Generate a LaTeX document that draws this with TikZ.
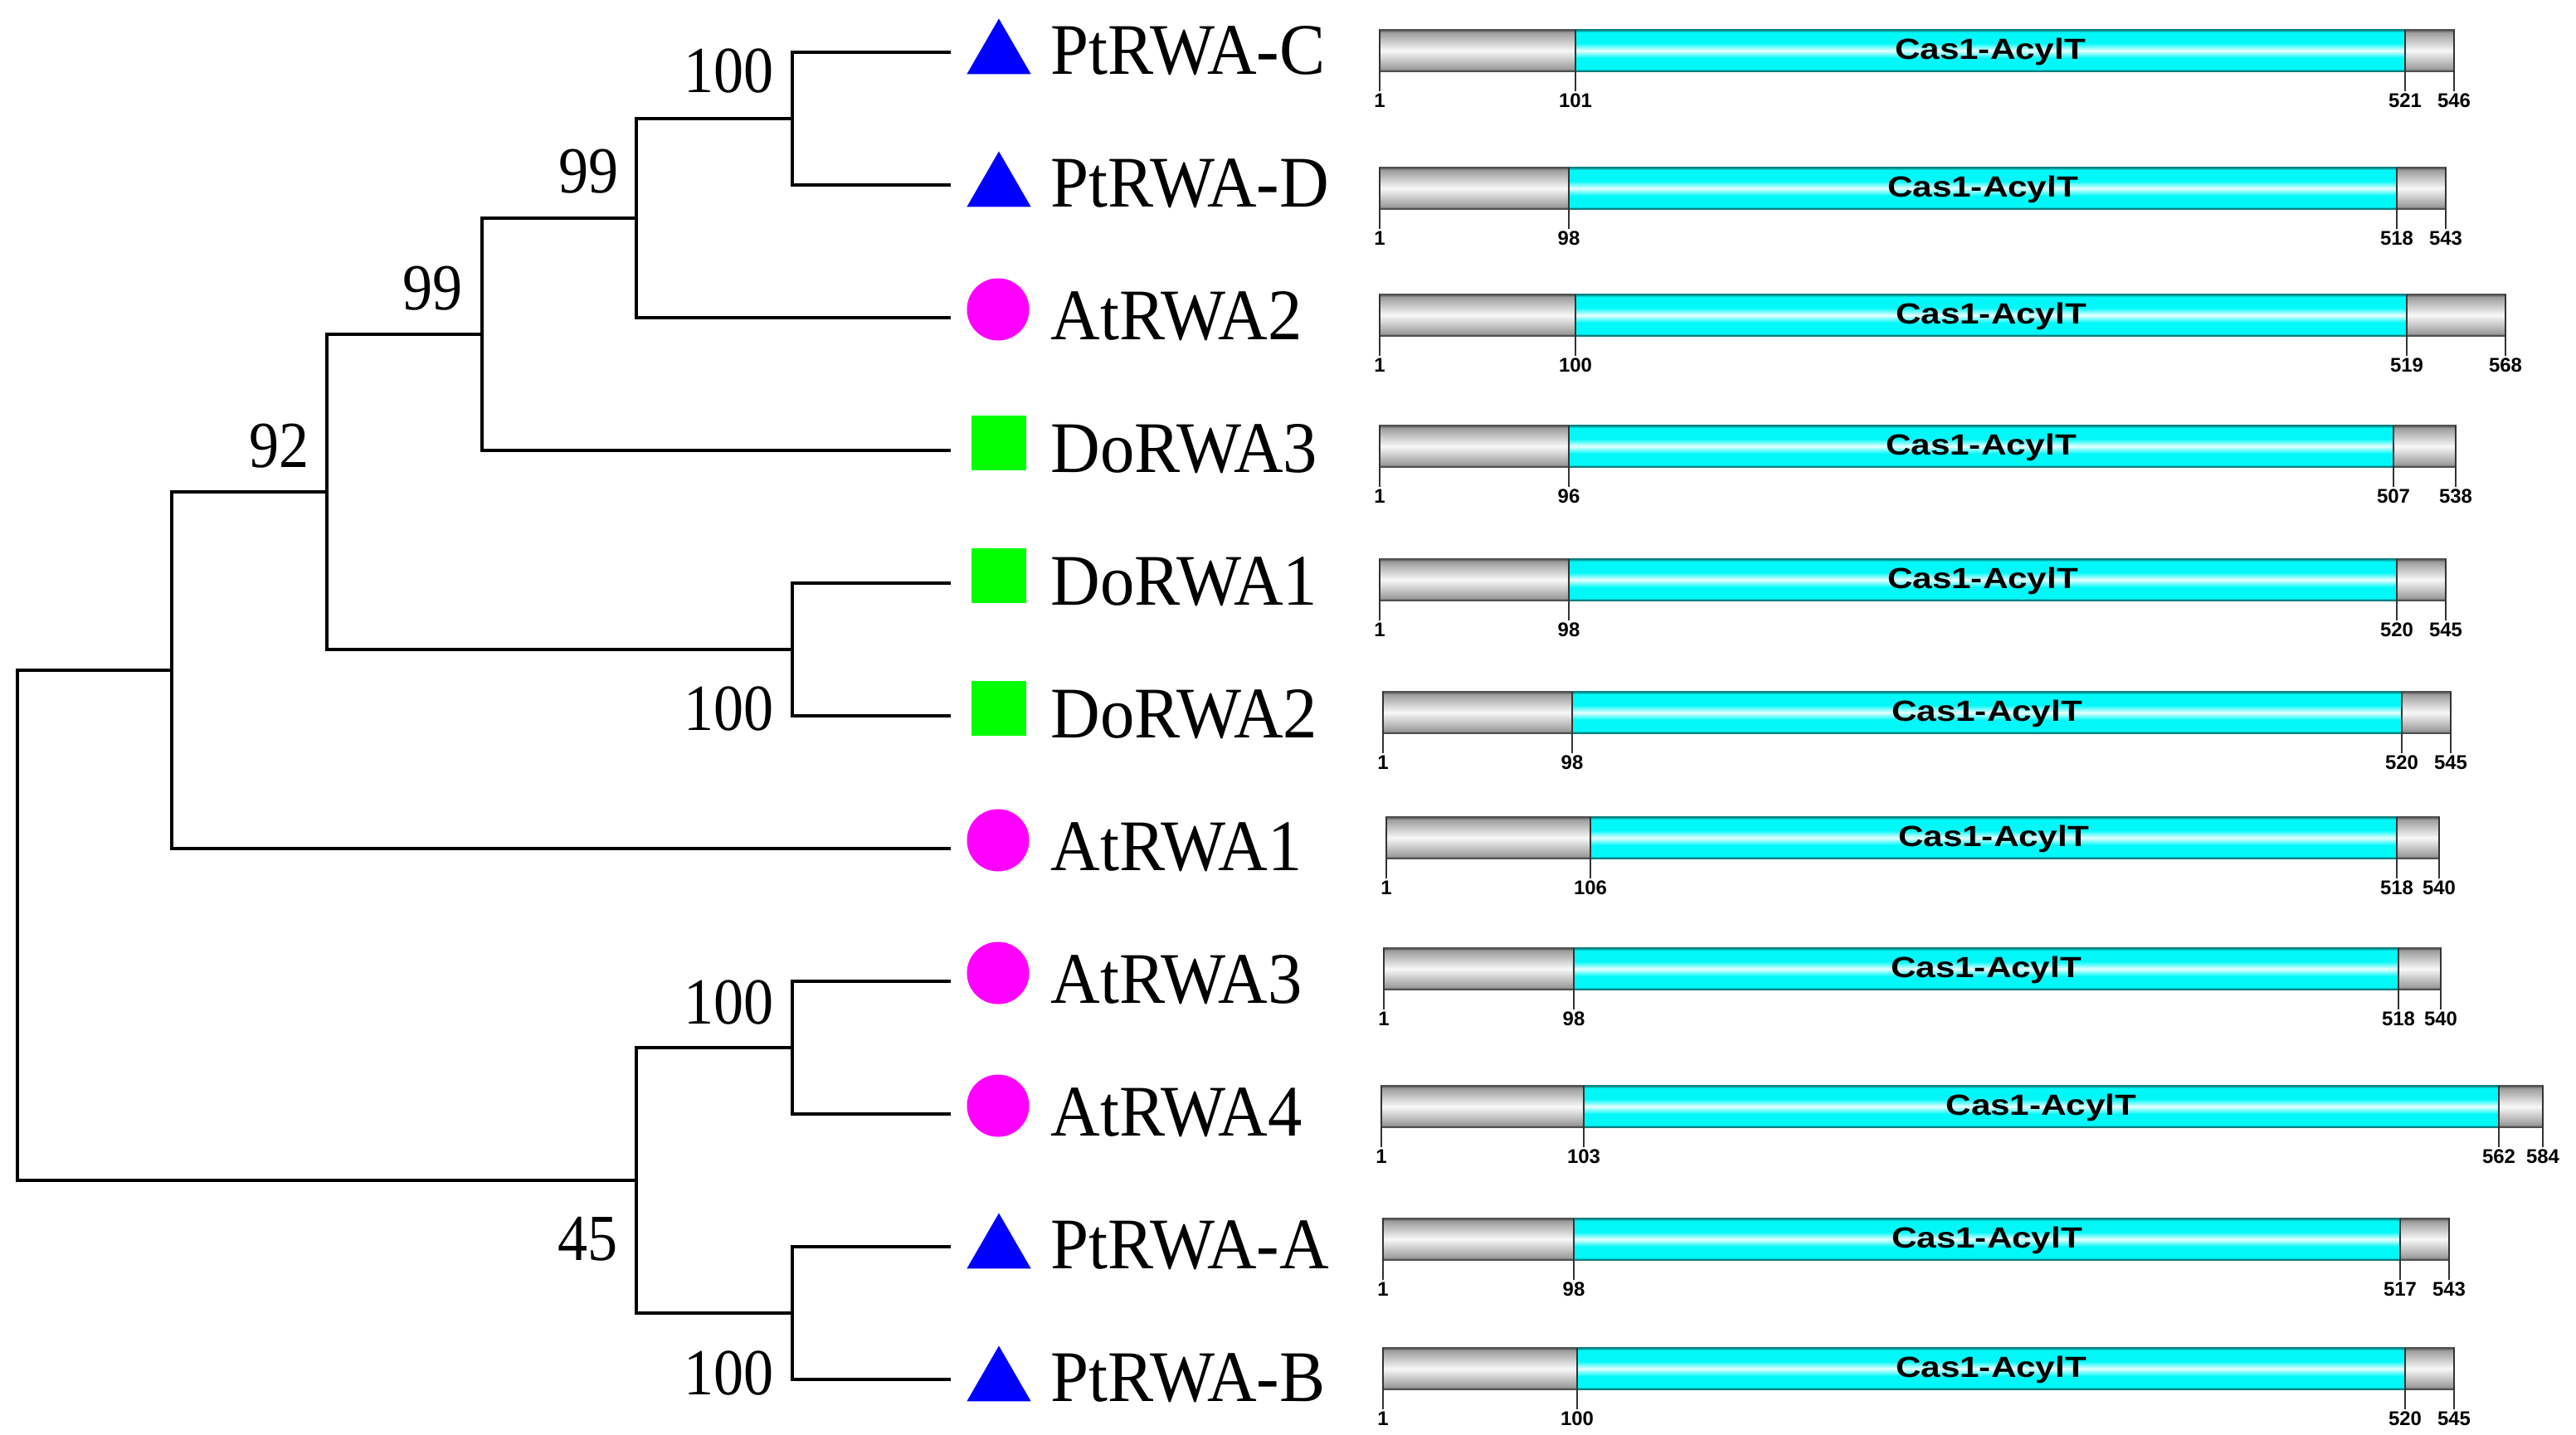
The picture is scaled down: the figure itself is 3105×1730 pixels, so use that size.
\documentclass[tikz,border=0pt]{standalone}
\usepackage{fontspec}
\setmainfont{Liberation Serif}
\newfontfamily\barfont{Liberation Sans}
\usetikzlibrary{shapes.geometric}
\definecolor{gdark}{HTML}{505050}
\definecolor{gmid}{HTML}{9C9C9C}
\definecolor{glight}{HTML}{F8F8F8}
\definecolor{tealedge}{HTML}{0A8080}
\definecolor{cyanc}{HTML}{00F8F8}
\definecolor{cyanw}{HTML}{E6FFFF}
\definecolor{symblue}{RGB}{0,0,255}
\definecolor{symmag}{RGB}{255,0,255}
\definecolor{symgreen}{RGB}{0,255,0}
\pgfdeclareverticalshading{graycyl}{100bp}{color(0bp)=(gdark); color(25bp)=(gdark); color(28bp)=(gmid); color(50bp)=(glight); color(72bp)=(gmid); color(75bp)=(gdark); color(100bp)=(gdark)}
\pgfdeclareverticalshading{cyancyl}{100bp}{color(0bp)=(tealedge); color(25bp)=(tealedge); color(28bp)=(cyanc); color(41bp)=(cyanc); color(50bp)=(cyanw); color(59bp)=(cyanc); color(72bp)=(cyanc); color(75bp)=(tealedge); color(100bp)=(tealedge)}
\tikzset{
  branch/.style={line width=1.4pt, line join=miter, line cap=rect},
  tri/.style={regular polygon, regular polygon sides=3, fill=symblue, inner sep=0pt, minimum size=0.89cm},
  dot/.style={circle, fill=symmag, inner sep=0pt, minimum size=0.75cm},
  sq/.style={rectangle, fill=symgreen, inner sep=0pt, minimum size=0.66cm},
  taxon/.style={anchor=base west, inner sep=0pt, font=\fontsize{23.5}{25}\selectfont},
  boot/.style={anchor=base east, inner sep=0pt, font=\fontsize{20.5}{22}\selectfont},
  gedge/.style={draw=gdark, line width=0.5pt},
  cedge/.style={draw=tealedge, line width=0.5pt},
  tickline/.style={draw=black!80, line width=0.6pt},
  num/.style={anchor=north, inner sep=0pt, font=\barfont\bfseries\fontsize{6.8}{7}\selectfont},
  domtxt/.style={inner sep=0pt, font=\barfont\bfseries\fontsize{10}{11}\selectfont}
}
\begin{document}
\begin{tikzpicture}[x=0.01cm, y=-0.01cm]
\useasboundingbox (0,0) rectangle (3105,1730);
% leaves
\coordinate (l1) at (1144,63);
\coordinate (l2) at (1144,223);
\coordinate (l3) at (1144,383);
\coordinate (l4) at (1144,543);
\coordinate (l5) at (1144,703);
\coordinate (l6) at (1144,863);
\coordinate (l7) at (1144,1023);
\coordinate (l8) at (1144,1183);
\coordinate (l9) at (1144,1343);
\coordinate (l10) at (1144,1503);
\coordinate (l11) at (1144,1663);
% internal nodes
\coordinate (n1) at (955,143);
\coordinate (n2) at (767,263);
\coordinate (n3) at (581,403);
\coordinate (n4) at (955,783);
\coordinate (n5) at (394,593);
\coordinate (n6) at (207,808);
\coordinate (n7) at (955,1263);
\coordinate (n8) at (955,1583);
\coordinate (n9) at (767,1423);
\coordinate (root) at (21,1115.5);
\draw[branch] (n1) |- (l1);
\draw[branch] (n1) |- (l2);
\draw[branch] (n2) |- (n1);
\draw[branch] (n2) |- (l3);
\draw[branch] (n3) |- (n2);
\draw[branch] (n3) |- (l4);
\draw[branch] (n4) |- (l5);
\draw[branch] (n4) |- (l6);
\draw[branch] (n5) |- (n3);
\draw[branch] (n5) |- (n4);
\draw[branch] (n6) |- (n5);
\draw[branch] (n6) |- (l7);
\draw[branch] (n7) |- (l8);
\draw[branch] (n7) |- (l9);
\draw[branch] (n8) |- (l10);
\draw[branch] (n8) |- (l11);
\draw[branch] (n9) |- (n7);
\draw[branch] (n9) |- (n8);
\draw[branch] (root) |- (n6);
\draw[branch] (root) |- (n9);
% bootstrap values
\node[boot] (b1) at (933,111) {\scalebox{1}[1.1]{100}};
\node[boot] (b2) at (746,232) {\scalebox{1}[1.1]{99}};
\node[boot] (b3) at (558,373) {\scalebox{1}[1.1]{99}};
\node[boot] (b5) at (373,563) {\scalebox{1}[1.1]{92}};
\node[boot] (b4) at (933,880) {\scalebox{1}[1.1]{100}};
\node[boot] (b7) at (933,1234) {\scalebox{1}[1.1]{100}};
\node[boot] (b9) at (745,1519) {\scalebox{1}[1.1]{45}};
\node[boot] (b8) at (933,1681) {\scalebox{1}[1.1]{100}};
% symbols and taxa
\node[tri] (s1) at (1204,67) {};
\node[tri] (s2) at (1204,227) {};
\node[dot] (s3) at (1203,373) {};
\node[sq] (s4) at (1204,534) {};
\node[sq] (s5) at (1204,694) {};
\node[sq] (s6) at (1204,854) {};
\node[dot] (s7) at (1203,1013) {};
\node[dot] (s8) at (1203,1173) {};
\node[dot] (s9) at (1203,1333) {};
\node[tri] (s10) at (1204,1507) {};
\node[tri] (s11) at (1204,1667) {};
\node[taxon] (t1) at (1266,89) {\scalebox{1}[1.06]{PtRWA-C}};
\node[taxon] (t2) at (1266,249) {\scalebox{1}[1.06]{PtRWA-D}};
\node[taxon] (t3) at (1266,409) {\scalebox{1}[1.06]{AtRWA2}};
\node[taxon] (t4) at (1266,569) {\scalebox{1}[1.06]{DoRWA3}};
\node[taxon] (t5) at (1266,729) {\scalebox{1}[1.06]{DoRWA1}};
\node[taxon] (t6) at (1266,889) {\scalebox{1}[1.06]{DoRWA2}};
\node[taxon] (t7) at (1266,1049) {\scalebox{1}[1.06]{AtRWA1}};
\node[taxon] (t8) at (1266,1209) {\scalebox{1}[1.06]{AtRWA3}};
\node[taxon] (t9) at (1266,1369) {\scalebox{1}[1.06]{AtRWA4}};
\node[taxon] (t10) at (1266,1529) {\scalebox{1}[1.06]{PtRWA-A}};
\node[taxon] (t11) at (1266,1689) {\scalebox{1}[1.06]{PtRWA-B}};
% protein bars
\foreach \nm/\y/\a/\b/\c/\d/\la/\lb/\lc/\ld in {
  r1/61/1663/1899/2899/2958/1/101/521/546,
  r2/227/1663/1891/2889/2948/1/98/518/543,
  r3/380/1663/1899/2901/3020/1/100/519/568,
  r4/538/1663/1891/2885/2960/1/96/507/538,
  r5/699/1663/1891/2889/2948/1/98/520/545,
  r6/859/1667/1895/2895/2954/1/98/520/545,
  r7/1010/1671/1917/2889/2940/1/106/518/540,
  r8/1168/1668/1897/2891/2942/1/98/518/540,
  r9/1334/1665/1909/3012/3065/1/103/562/584,
  r10/1494/1667/1897/2893/2952/1/98/517/543,
  r11/1650/1667/1901/2899/2958/1/100/520/545}{
  \shade[shading=graycyl] (\a,\y-25) rectangle (\b,\y+25);
  \shade[shading=cyancyl] (\b,\y-25) rectangle (\c,\y+25);
  \shade[shading=graycyl] (\c,\y-25) rectangle (\d,\y+25);
  \draw[gedge] (\a,\y-25) rectangle (\b,\y+25);
  \draw[gedge] (\c,\y-25) rectangle (\d,\y+25);
  \draw[cedge] (\b,\y-25) -- (\c,\y-25);
  \draw[cedge] (\b,\y+25) -- (\c,\y+25);
  \draw[tickline] (\a,\y-25) -- (\a,\y+49);
  \draw[tickline] (\b,\y-25) -- (\b,\y+49);
  \draw[tickline] (\c,\y-25) -- (\c,\y+49);
  \draw[tickline] (\d,\y-25) -- (\d,\y+49);
  \node[domtxt] (\nm-dom) at ({(\b+\c)/2},\y+1) {\scalebox{1.2}[1]{Cas1-AcylT}};
  \node[num] (\nm-p1) at (\a,\y+51) {\la};
  \node[num] (\nm-p2) at (\b,\y+51) {\lb};
  \node[num] (\nm-p3) at (\c,\y+51) {\lc};
  \node[num] (\nm-p4) at (\d,\y+51) {\ld};
}
\end{tikzpicture}
\end{document}
